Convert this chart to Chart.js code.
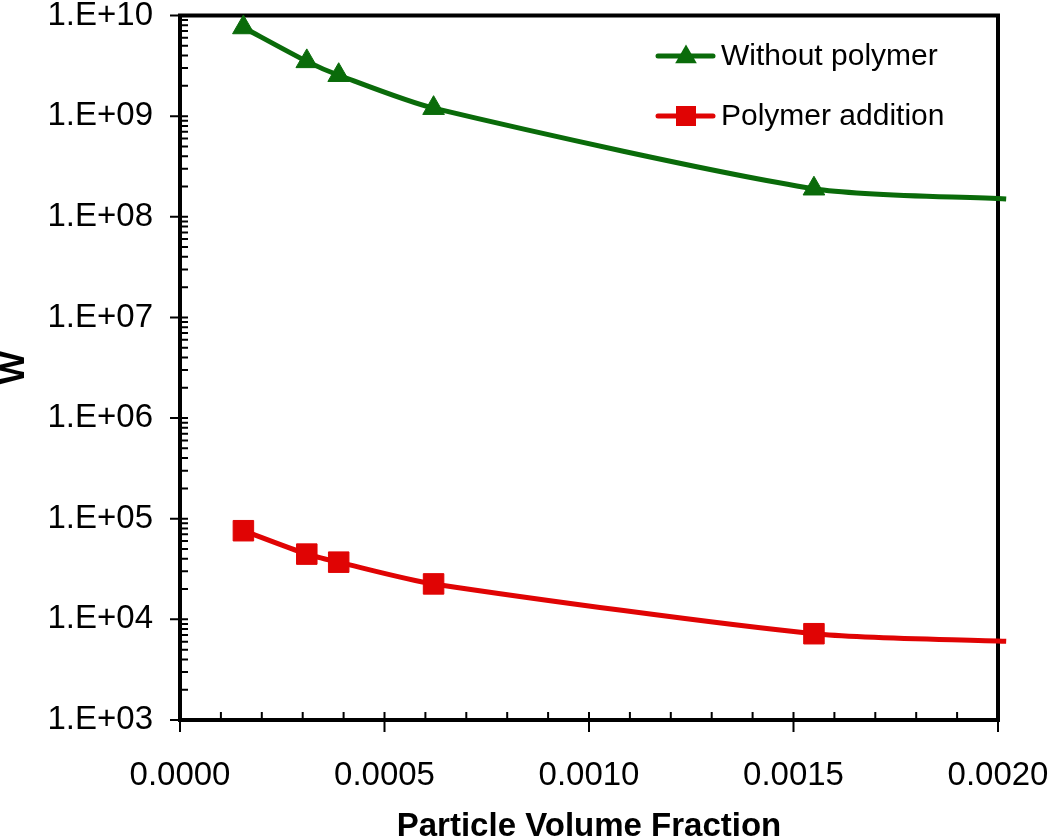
<!DOCTYPE html>
<html>
<head>
<meta charset="utf-8">
<script src="https://cdn.jsdelivr.net/npm/chart.js@4/dist/chart.umd.min.js"></script>
<style>
  html, body { margin: 0; padding: 0; background: #fff; }
  #wrap { width: 1050px; height: 839px; }
</style>
</head>
<body>
<div id="wrap"><canvas id="chart" width="1050" height="839"></canvas></div>
<script>
// Datos
const volumeFraction = [0.000155, 0.00031, 0.000388, 0.00062, 0.00155, 0.00202];
const withoutPolymer = [7.6e9, 3.5e9, 2.55e9, 1.2e9, 1.9e8, 1.5e8];
const polymerAddition = [7.6e4, 4.45e4, 3.7e4, 2.25e4, 7.2e3, 6.05e3];
const seriesNames = ['Without polymer', 'Polymer addition'];
const yTicks = [1e3, 1e4, 1e5, 1e6, 1e7, 1e8, 1e9, 1e10];
const xTicks = [0, 0.0005, 0.001, 0.0015, 0.002];

const FONT = "'Liberation Sans', Arial, Helvetica, sans-serif";
const GREEN = '#0a6b0a';
const RED = '#e00404';

// Marco, marcas mayores y menores de los ejes
const framePlugin = {
    id: 'frame',
    beforeDatasetsDraw(chart) {
        const { ctx, chartArea: a, scales: { x, y } } = chart;
        ctx.save();
        ctx.strokeStyle = '#000';
        ctx.lineWidth = 2;
        ctx.beginPath();
        // y: mayores cruzando, menores hacia dentro
        yTicks.forEach((v) => {
            const py = y.getPixelForValue(v);
            ctx.moveTo(a.left - 10, py);
            ctx.lineTo(a.left + 8, py);
        });
        for (let k = 3; k < 10; k++) {
            for (let m = 2; m <= 9; m++) {
                const py = y.getPixelForValue(m * Math.pow(10, k));
                ctx.moveTo(a.left, py);
                ctx.lineTo(a.left + 8, py);
            }
        }
        // x
        for (let i = 0; i <= 20; i++) {
            const px = x.getPixelForValue(i * 0.0001);
            if (i % 5 === 0) {
                ctx.moveTo(px, a.bottom + 12);
                ctx.lineTo(px, a.bottom - 8);
            } else {
                ctx.moveTo(px, a.bottom);
                ctx.lineTo(px, a.bottom - 8);
            }
        }
        ctx.stroke();
        ctx.lineWidth = 4;
        ctx.strokeRect(a.left, a.top, a.right - a.left, a.bottom - a.top);
        ctx.restore();
    }
};

function drawMarker(ctx, style, x, y, color) {
    ctx.fillStyle = color;
    ctx.beginPath();
    if (style === 'triangle') {
        const r = 12.5;
        ctx.moveTo(x, y - r);
        ctx.lineTo(x + r * 0.866, y + r / 2);
        ctx.lineTo(x - r * 0.866, y + r / 2);
        ctx.closePath();
    } else {
        ctx.rect(x - 10, y - 10, 20, 20);
    }
    ctx.fill();
}

// Leyenda dentro del area del grafico
const legendPlugin = {
    id: 'insideLegend',
    afterDraw(chart) {
        const { ctx } = chart;
        ctx.save();
        chart.data.datasets.forEach((ds, i) => {
            const yy = 56 + i * 60;
            ctx.strokeStyle = ds.borderColor;
            ctx.lineWidth = 5;
            ctx.lineCap = 'round';
            ctx.beginPath();
            ctx.moveTo(658, yy);
            ctx.lineTo(713, yy);
            ctx.stroke();
            drawMarker(ctx, ds.pointStyle, 686, ds.pointStyle === 'triangle' ? yy + 1 : yy, ds.borderColor);
            ctx.fillStyle = '#000';
            ctx.font = '30px ' + FONT;
            ctx.textBaseline = 'middle';
            ctx.textAlign = 'left';
            ctx.fillText(ds.label, 721, yy + 1);
        });
        ctx.restore();
    }
};

const ctx = document.getElementById('chart').getContext('2d');

new Chart(ctx, {
    type: 'line',
    data: {
        datasets: [
            {
                label: seriesNames[0],
                data: volumeFraction.map((v, i) => ({ x: v, y: withoutPolymer[i] })),
                borderColor: GREEN,
                backgroundColor: GREEN,
                borderWidth: 5,
                pointStyle: 'triangle',
                pointRadius: [12.5, 12.5, 12.5, 12.5, 12.5, 0],
                pointBorderWidth: 1,
                tension: 0.25,
                clip: false
            },
            {
                label: seriesNames[1],
                data: volumeFraction.map((v, i) => ({ x: v, y: polymerAddition[i] })),
                borderColor: RED,
                backgroundColor: RED,
                borderWidth: 5,
                pointStyle: 'rect',
                pointRadius: [14.5, 14.5, 14.5, 14.5, 14.5, 0],
                pointBorderWidth: 1,
                tension: 0.25,
                clip: false
            }
        ]
    },
    options: {
        responsive: false,
        animation: false,
        events: [],
        layout: { padding: { left: 0, top: 13, right: 52, bottom: 0 } },
        plugins: {
            legend: { display: false },
            tooltip: { enabled: false }
        },
        scales: {
            x: {
                type: 'linear',
                min: 0,
                max: 0.002,
                afterBuildTicks: (scale) => { scale.ticks = xTicks.map((v) => ({ value: v })); },
                afterFit: (scale) => {
                    scale.height = 119;
                    scale.paddingLeft = 0;
                    scale.paddingRight = 0;
                },
                grid: { display: false, drawTicks: false },
                border: { display: false },
                ticks: {
                    padding: 36,
                    color: '#000',
                    maxRotation: 0,
                    font: { family: FONT, size: 33 },
                    callback: (v) => Number(v).toFixed(4)
                },
                title: {
                    display: true,
                    text: 'Particle Volume Fraction',
                    color: '#000',
                    padding: 0,
                    font: { family: FONT, size: 33, weight: 'bold', lineHeight: 0.72 }
                }
            },
            y: {
                type: 'logarithmic',
                min: 1e3,
                max: 1e10,
                afterBuildTicks: (scale) => { scale.ticks = yTicks.map((v) => ({ value: v })); },
                afterFit: (scale) => {
                    scale.width = 180;
                    scale.paddingTop = 0;
                    scale.paddingBottom = 0;
                },
                grid: { display: false, drawTicks: false },
                border: { display: false },
                ticks: {
                    padding: 27,
                    color: '#000',
                    font: { family: FONT, size: 33 },
                    callback: (v) => {
                        const e = Math.round(Math.log10(v));
                        return '1.E+' + String(e).padStart(2, '0');
                    }
                },
                title: {
                    display: true,
                    text: 'W',
                    color: '#000',
                    padding: 0,
                    font: { family: FONT, size: 35, weight: 'bold', lineHeight: 0.8 }
                }
            }
        }
    },
    plugins: [framePlugin, legendPlugin]
});
</script>
</body>
</html>
